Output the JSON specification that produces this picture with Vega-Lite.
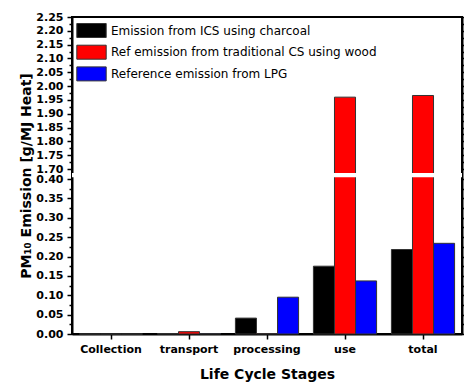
{
  "$schema": "https://vega.github.io/schema/vega-lite/v6.json",
  "width": 390,
  "height": 317,
  "autosize": {"type": "none"},
  "padding": {"left": 72, "top": 17, "right": 2, "bottom": 52},
  "background": "white",
  "config": {"view": {"stroke": "black", "strokeWidth": 2}, "font": "DejaVu Sans"},
  "layer": [
    {
      "data": {"values": [
        {"stage": "Collection", "series": "Emission from ICS using charcoal", "value": 0},
        {"stage": "Collection", "series": "Ref emission from traditional CS using wood", "value": 0},
        {"stage": "Collection", "series": "Reference emission from LPG", "value": 0},
        {"stage": "transport", "series": "Emission from ICS using charcoal", "value": 0.001},
        {"stage": "transport", "series": "Ref emission from traditional CS using wood", "value": 0.006},
        {"stage": "transport", "series": "Reference emission from LPG", "value": 0.001},
        {"stage": "processing", "series": "Emission from ICS using charcoal", "value": 0.041},
        {"stage": "processing", "series": "Ref emission from traditional CS using wood", "value": 0.001},
        {"stage": "processing", "series": "Reference emission from LPG", "value": 0.095},
        {"stage": "use", "series": "Emission from ICS using charcoal", "value": 0.175},
        {"stage": "use", "series": "Ref emission from traditional CS using wood", "value": 1.96},
        {"stage": "use", "series": "Reference emission from LPG", "value": 0.137},
        {"stage": "total", "series": "Emission from ICS using charcoal", "value": 0.218},
        {"stage": "total", "series": "Ref emission from traditional CS using wood", "value": 1.966},
        {"stage": "total", "series": "Reference emission from LPG", "value": 0.234}
      ]},
      "mark": {"type": "bar", "stroke": "#333333", "strokeWidth": 1},
      "encoding": {
        "x": {
          "field": "stage", "type": "nominal",
          "sort": ["Collection", "transport", "processing", "use", "total"],
          "scale": {"paddingInner": 0.19, "paddingOuter": 0.095},
          "axis": {
            "title": "Life Cycle Stages", "labelAngle": 0,
            "labelFont": "DejaVu Sans", "labelFontWeight": "bold", "labelFontSize": 11, "labelColor": "black",
            "tickSize": 5, "tickColor": "black", "tickWidth": 1.5,
            "domainColor": "black", "domainWidth": 2, "labelPadding": 4,
            "titleFont": "DejaVu Sans", "titleFontSize": 14, "titleFontWeight": "bold", "titleColor": "black", "titlePadding": 13
          }
        },
        "xOffset": {
          "field": "series", "type": "nominal",
          "sort": ["Emission from ICS using charcoal", "Ref emission from traditional CS using wood", "Reference emission from LPG"],
          "scale": {"paddingInner": 0, "paddingOuter": 0}
        },
        "y": {
          "field": "value", "type": "quantitative",
          "scale": {"domain": [0, 0.4, 1.7, 2.25], "range": [317, 162, 152, 0], "nice": false, "zero": false},
          "axis": {
            "title": "PM₁₀ Emission [g/MJ Heat]",
            "values": [0, 0.025, 0.05, 0.075, 0.1, 0.125, 0.15, 0.175, 0.2, 0.225, 0.25, 0.275, 0.3, 0.325, 0.35, 0.375, 0.4, 1.7, 1.725, 1.75, 1.775, 1.8, 1.825, 1.85, 1.875, 1.9, 1.925, 1.95, 1.975, 2.0, 2.025, 2.05, 2.075, 2.1, 2.125, 2.15, 2.175, 2.2, 2.225, 2.25],
            "labelExpr": "round(datum.value*1000) % 50 == 0 ? format(datum.value, '.2f') : ''",
            "tickSize": {"condition": {"test": "round(datum.value*1000) % 50 != 0", "value": 3}, "value": 5},
            "labelOverlap": false,
            "labelFont": "DejaVu Sans", "labelFontWeight": "bold", "labelFontSize": 11, "labelColor": "black",
            "tickColor": "black", "tickWidth": 1.5, "domainColor": "black", "domainWidth": 2,
            "labelPadding": 4, "grid": false,
            "titleFont": "DejaVu Sans", "titleFontSize": 14, "titleFontWeight": "bold", "titleColor": "black", "titlePadding": 2
          }
        },
        "color": {
          "field": "series", "type": "nominal",
          "scale": {
            "domain": ["Emission from ICS using charcoal", "Ref emission from traditional CS using wood", "Reference emission from LPG"],
            "range": ["#000000", "#ff0000", "#0000ff"]
          },
          "legend": {
            "title": null, "orient": "none", "legendX": 12, "legendY": 6,
            "symbolType": "M-2.1,-1H2.1V1H-2.1Z", "symbolSize": 196,
            "symbolStrokeColor": "#333333", "symbolStrokeWidth": 1, "symbolOpacity": 1,
            "labelFont": "DejaVu Sans", "labelFontSize": 12, "labelColor": "black",
            "labelOffset": 12, "rowPadding": 2.7, "padding": 0, "labelLimit": 400
          }
        }
      }
    },
    {
      "data": {"values": [{"lo": 0.62, "hi": 1.18}]},
      "mark": {"type": "rect", "color": "white", "strokeWidth": 0},
      "encoding": {
        "x": {"value": 0},
        "x2": {"value": "width"},
        "y": {
          "field": "lo", "type": "quantitative",
          "scale": {"domain": [0, 0.4, 1.7, 2.25], "range": [317, 162, 152, 0], "nice": false, "zero": false},
          "axis": {
            "orient": "right", "title": null, "labels": false,
            "values": [0, 0.025, 0.05, 0.075, 0.1, 0.125, 0.15, 0.175, 0.2, 0.225, 0.25, 0.275, 0.3, 0.325, 0.35, 0.375, 0.4, 1.7, 1.725, 1.75, 1.775, 1.8, 1.825, 1.85, 1.875, 1.9, 1.925, 1.95, 1.975, 2.0, 2.025, 2.05, 2.075, 2.1, 2.125, 2.15, 2.175, 2.2, 2.225, 2.25],
            "tickSize": {"condition": {"test": "round(datum.value*1000) % 50 != 0", "value": 3}, "value": 5},
            "tickColor": "black", "tickWidth": 1.5, "domainColor": "black", "domainWidth": 2, "grid": false
          }
        },
        "y2": {"field": "hi"}
      }
    }
  ],
  "resolve": {"axis": {"y": "independent"}}
}
